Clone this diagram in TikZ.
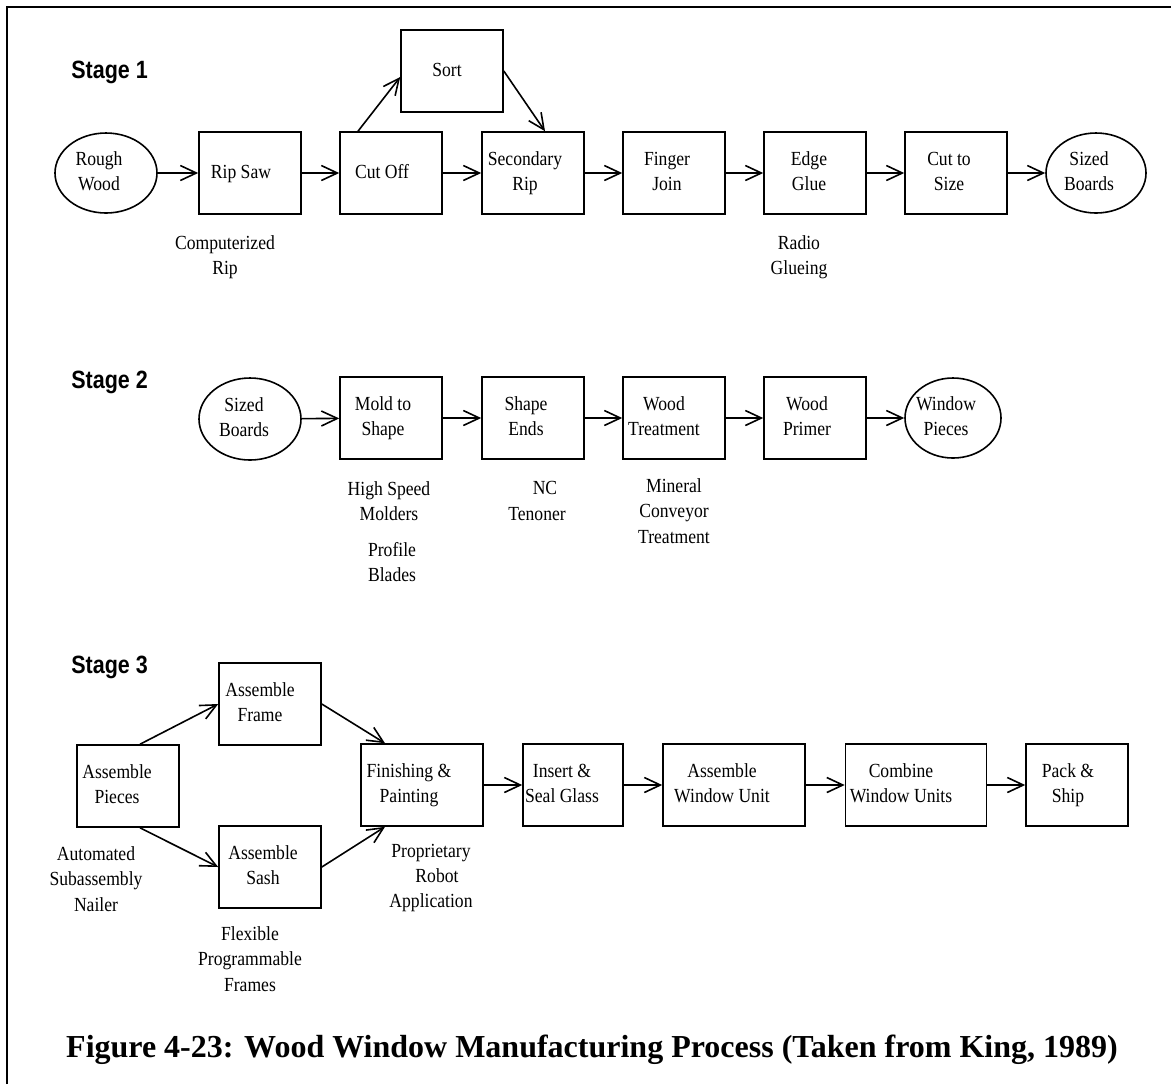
\documentclass[tikz,border=0pt]{standalone}
\usepackage{fontspec}
\usepackage{graphicx}
\setmainfont{Liberation Serif}
\newfontfamily\bodyfont{Liberation Serif}[FakeStretch=0.88]
\newfontfamily\stagefont{Liberation Sans}[FakeStretch=0.86]
\newfontfamily\capfont{Liberation Serif}
\usetikzlibrary{arrows.meta,shapes.geometric}
% box text, shifted left by #1 px
\newcommand\bx[2][7]{\makebox[0pt]{\begin{tabular}{@{}c@{}}#2\end{tabular}\hspace*{#1pt}}}
\begin{document}
\begin{tikzpicture}[x=0.5pt,y=-0.5pt,
  font=\bodyfont\fontsize{10}{12.6}\selectfont,
  box/.style={draw,line width=0.8pt,rectangle,minimum width=51pt,minimum height=41pt,inner sep=0pt},
  oval/.style={draw,line width=0.8pt,ellipse,minimum width=51pt,minimum height=40pt,inner sep=0pt},
  flow/.style={-{Straight Barb[length=8pt,width=7.5pt]},line width=0.8pt},
  note/.style={align=center,inner sep=0pt},
  stagelbl/.style={anchor=west,inner sep=0pt,font=\stagefont\bfseries\fontsize{12.5}{14}\selectfont},
  caption/.style={inner sep=0pt,font=\capfont\bfseries\fontsize{16}{19}\selectfont}]
\useasboundingbox (0,0) rectangle (1171,1084);
% frame
\draw[line width=1.3pt] (7,1084) -- (7,7) -- (1171,7);

% ---------- Stage 1 ----------
\node[stagelbl] (s1) at (71,72) {Stage 1};
\node[oval] (rw) at (106,173) {\bx{Rough\\Wood}};
\node[box] (rip) at (250,173) {\bx[9]{Rip Saw}};
\node[box] (cut) at (391,173) {\bx[9]{Cut Off}};
\node[box] (sort) at (452,71) {\bx[5]{Sort}};
\node[box] (sec) at (533,173) {\bx[8]{Secondary\\Rip}};
\node[box] (fj) at (674,173) {\bx{Finger\\Join}};
\node[box] (eg) at (815,173) {\bx[6]{Edge\\Glue}};
\node[box] (cs) at (956,173) {\bx{Cut to\\Size}};
\node[oval,minimum width=50pt] (sb1) at (1096,173) {\bx{Sized\\Boards}};
\draw[flow] (rw) -- (rip);
\draw[flow] (rip) -- (cut);
\draw[flow] (cut) -- (sec);
\draw[flow] (sec) -- (fj);
\draw[flow] (fj) -- (eg);
\draw[flow] (eg) -- (cs);
\draw[flow] (cs) -- (sb1);
\draw[flow] ([xshift=-16.5pt]cut.north) -- ([yshift=-3pt]sort.west);
\draw[flow] (sort.east) -- ([xshift=6pt]sec.north);
\node[note] (n1) at (225,257) {Computerized\\Rip};
\node[note] (n2) at (799,257) {Radio\\Glueing};

% ---------- Stage 2 ----------
\node[stagelbl] (s2) at (71,382) {Stage 2};
\node[oval,minimum height=41pt] (sb2) at (250,419) {\bx[6]{Sized\\Boards}};
\node[box] (mold) at (391,418) {\bx[8]{Mold to\\Shape}};
\node[box] (shp) at (533,418) {\bx[7]{Shape\\Ends}};
\node[box] (wt) at (674,418) {\bx[10]{Wood\\Treatment}};
\node[box] (wp) at (815,418) {\bx[8]{Wood\\Primer}};
\node[oval,minimum width=48pt] (wpc) at (953,418) {\bx{Window\\Pieces}};
\draw[flow] (sb2) -- (mold);
\draw[flow] (mold) -- (shp);
\draw[flow] (shp) -- (wt);
\draw[flow] (wt) -- (wp);
\draw[flow] (wp) -- (wpc);
\node[note] (n3) at (389,501) {High Speed\\Molders};
\node[note] (n4) at (392,562) {Profile\\Blades};
\node[note] (n5) at (537,501) {\hspace*{8pt}NC\\Tenoner};
\node[note] (n6) at (674,511) {Mineral\\Conveyor\\Treatment};

% ---------- Stage 3 ----------
\node[stagelbl] (s3) at (71,667) {Stage 3};
\node[box] (ap) at (128,786) {\bx[11]{Assemble\\Pieces}};
\node[box] (af) at (270,704) {\bx[10]{Assemble\\Frame}};
\node[box] (as) at (270,867) {\bx[7]{Assemble\\Sash}};
\node[box,minimum width=61pt] (fp) at (422,785) {\bx[13]{Finishing \&\\Painting}};
\node[box,minimum width=50pt] (isg) at (573,785) {\bx[11]{Insert \&\\Seal Glass}};
\node[box,minimum width=71pt] (awu) at (734,785) {\bx[12]{Assemble\\Window Unit}};
\node[box,minimum width=70.5pt] (cwu) at (916,785) {\bx[15]{Combine\\Window Units}};
\node[box] (ps) at (1077,785) {\bx[9]{Pack \&\\Ship}};
\draw[flow] ([xshift=6pt]ap.north) -- (af.west);
\draw[flow] ([xshift=6pt]ap.south) -- (as.west);
\draw[flow] (af.east) -- ([xshift=-18.5pt]fp.north);
\draw[flow] (as.east) -- ([xshift=-18.5pt]fp.south);
\draw[flow] (fp) -- (isg);
\draw[flow] (isg) -- (awu);
\draw[flow] (awu) -- (cwu);
\draw[flow] (cwu) -- (ps);
\node[note] (n7) at (96,879) {Automated\\Subassembly\\Nailer};
\node[note] (n8) at (250,959) {Flexible\\Programmable\\Frames};
\node[note] (n9) at (431,878) {Proprietary\\\hspace*{6pt}Robot\\Application};

% ---------- Caption ----------
\node[caption] (cap) at (592,1050) {Figure 4-23: Wood Window Manufacturing Process (Taken from King, 1989)};
\end{tikzpicture}
\end{document}
